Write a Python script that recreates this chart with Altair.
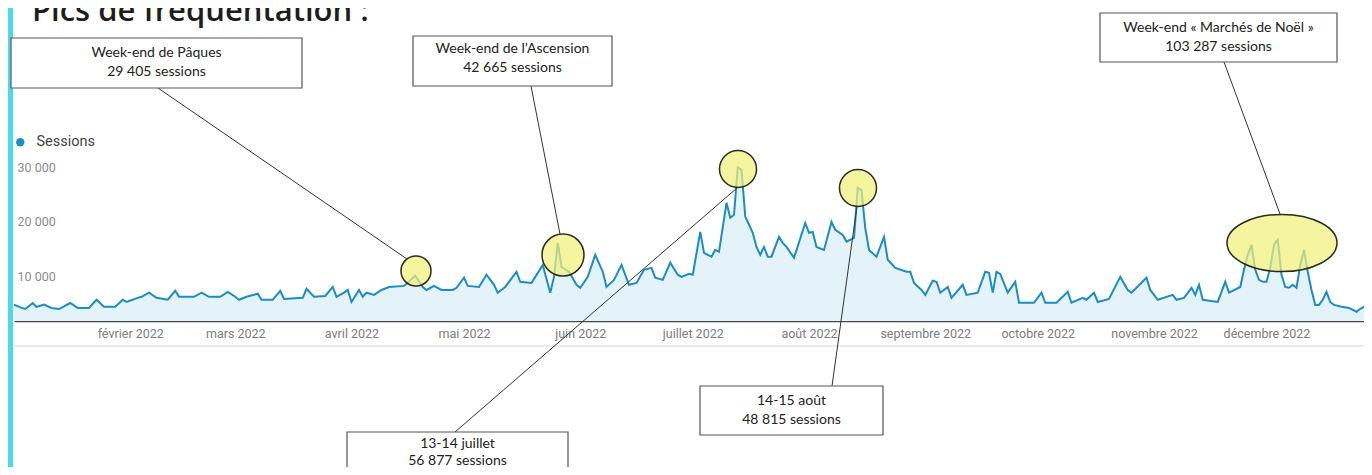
import altair as alt
import pandas as pd

# ---------------- data ----------------
# day index since 1 Jan 2022, daily sessions
days = [0, 2, 3, 5, 6, 8, 10, 12, 15, 17, 20, 22, 24, 27, 29, 30, 33, 34, 36, 38,
        41, 43, 44, 48, 50, 52, 55, 57, 59, 60, 62, 65, 66, 69, 71, 72, 77, 78, 80, 83,
        85, 86, 88, 89, 90, 92, 93, 94, 96, 98, 100, 104, 105, 106, 107, 109, 110, 112, 114, 117,
        118, 120, 121, 124, 126, 128, 129, 131, 134, 135, 138, 141, 143, 144, 145, 146, 147, 148, 150, 151,
        153, 155, 157, 158, 160, 162, 164, 166, 168, 170, 171, 173, 175, 177, 178, 180, 181, 183, 184, 186,
        187, 188, 190, 191, 192, 193, 194, 195, 197, 198, 199, 200, 201, 202, 204, 205, 206, 208, 211, 212,
        213, 214, 216, 218, 219, 221, 222, 224, 225, 226, 227, 228, 230, 232, 233, 235, 238, 239, 240, 242,
        243, 245, 246, 247, 249, 250, 253, 254, 257, 259, 260, 261, 262, 263, 265, 267, 268, 272, 274, 275,
        278, 281, 282, 285, 286, 288, 289, 292, 295, 297, 298, 302, 303, 305, 309, 310, 312, 314, 315, 316,
        317, 321, 323, 324, 327, 328, 329, 330, 331, 332, 333, 334, 335, 336, 337, 338, 339, 340, 341, 342,
        343, 344, 345, 346, 347, 348, 349, 350, 351, 352, 354, 356, 358, 359, 360, 362, 364]
sessions = [4800, 4200, 4000, 5100, 4400, 4800, 4200, 4000, 5100, 4200, 4200, 5700, 4400, 4400, 5700, 5300, 6050, 6250, 7000, 6050,
            5700, 7350, 6250, 6250, 7000, 6250, 6250, 7150, 6250, 5700, 6250, 6800, 5700, 5700, 7350, 5850, 6050, 7700, 6250, 6400,
            8050, 6250, 7000, 7500, 5300, 7500, 6250, 7000, 6600, 7500, 8050, 8250, 8800, 9500, 10100, 8050, 7500, 8250, 7500, 7500,
            7900, 9750, 8250, 8050, 10300, 8450, 7000, 8050, 10850, 9000, 8800, 12100, 7000, 9900, 16150, 11750, 11300, 10850, 8450, 7900,
            9900, 13950, 10850, 8050, 9350, 12100, 8450, 8800, 11200, 11550, 9750, 9350, 12500, 10300, 9900, 10450, 10300, 18150, 14300, 13600,
            14850, 14500, 23500, 20750, 21300, 30000, 29600, 21000, 18000, 15400, 13950, 15400, 13600, 13600, 17250, 16150, 15400, 13400, 19800, 18000,
            18150, 15400, 14850, 20000, 18550, 17600, 16350, 17050, 26250, 25850, 18900, 14850, 13600, 17250, 13050, 11550, 10850, 10850, 8800, 7500,
            6600, 9200, 9000, 7000, 8050, 6050, 8450, 6600, 7000, 10850, 10650, 7000, 10850, 10450, 7000, 9000, 5150, 5150, 7000, 5150,
            5150, 7150, 5150, 6050, 5700, 7000, 5300, 5850, 9900, 7500, 7000, 9750, 7500, 5700, 6600, 5700, 6050, 7900, 6600, 8450,
            5700, 5300, 9000, 7000, 8050, 11200, 13950, 15800, 11200, 9350, 9000, 9000, 11550, 15800, 16700, 10300, 8050, 7900, 8450, 7900,
            12100, 14850, 10850, 7500, 4750, 4750, 5700, 7150, 5300, 4750, 4400, 4200, 3500, 4050, 4400, 4400, 4300]

series_name = "Sessions"
month_starts = [31, 59, 90, 120, 151, 181, 212, 243, 273, 304, 334]
month_labels = ["février 2022", "mars 2022", "avril 2022", "mai 2022", "juin 2022", "juillet 2022",
                "août 2022", "septembre 2022", "octobre 2022", "novembre 2022", "décembre 2022"]
y_ticks = [10000, 20000, 30000]
title_text = "Pics de fréquentation :"
annotation_texts = [
    ["Week-end de Pâques", "29 405 sessions"],
    ["Week-end de l\u2019Ascension", "42 665 sessions"],
    ["13-14 juillet", "56 877 sessions"],
    ["14-15 août", "48 815 sessions"],
    ["Week-end « Marchés de Noël »", "103 287 sessions"],
]

# ---------------- layout (page pixels) ----------------
PLOT_X0, PLOT_Y0 = 14, 150
W, H = 1350, 171


def px(x):
    return x - PLOT_X0


def py(y):
    return y - PLOT_Y0


# box: x1, x2, y1, y2, first-line offset, line height
boxes = [(11, 302, 38, 88, 8, 18.5), (413, 612, 36, 86, 6, 19), (347, 568, 432, 490, 5, 16.5),
         (700, 883, 386, 435, 8, 18.5), (1100, 1337, 13, 62, 8, 18.5)]
connectors = [((158, 88), (407, 259)), ((531, 86), (560, 234)), ((455, 432), (737, 188)),
              ((832, 386), (857, 206)), ((1224, 62), (1280, 214))]
highlights = [(416, 271, 30, "circle"), (563, 255, 42, "circle"), (738, 169, 37, "circle"),
              (858, 188, 37, "circle"), (1282, 243, 110, "M-1,0 A1,0.52 0 1,1 1,0 A1,0.52 0 1,1 -1,0 Z")]

LINE_COLOR = "#1b8cc6"

df = pd.DataFrame({"day": days, "sessions": sessions, "serie": series_name})
dummy = pd.DataFrame({"k": [0]})

label_expr = "[" + ",".join("'" + m + "'" for m in month_labels) + "][indexof([" + \
    ",".join(str(v) for v in month_starts) + "], datum.value)]"

x_enc = alt.X("day:Q", scale=alt.Scale(domain=[0, 360], nice=False, zero=False),
              axis=alt.Axis(values=month_starts, labelExpr=label_expr, title=None, grid=False,
                            ticks=False, domainColor="#4a4a4a", domainWidth=1.5,
                            labelColor="#7c7c7c", labelFont="Roboto", labelFontSize=12.5,
                            labelPadding=12, labelBaseline="middle", labelFlush=False,
                            labelOverlap=False))
y_enc = alt.Y("sessions:Q", scale=alt.Scale(domain=[1800, 33200], nice=False, zero=False),
              axis=alt.Axis(values=y_ticks, labelExpr="replace(format(datum.value, ','), ',', ' ')",
                            title=None, grid=False, ticks=False, tickSize=0, domain=False,
                            labelAlign="left", labelPadding=-3, labelBaseline="middle",
                            labelColor="#8c8c8c", labelFont="Roboto", labelFontSize=12.5))

base = alt.Chart(df)
area = base.mark_area(color="#e4f2fa", clip=True).encode(x=x_enc, y=y_enc)
line = base.mark_line(strokeWidth=2, clip=True).encode(
    x=x_enc, y=y_enc,
    color=alt.Color("serie:N", scale=alt.Scale(range=[LINE_COLOR]),
                    legend=alt.Legend(orient="none", legendX=-1, legendY=-15, title=None,
                                      symbolType="circle", symbolSize=70,
                                      symbolFillColor=LINE_COLOR, symbolStrokeColor=LINE_COLOR,
                                      symbolStrokeWidth=0, labelFont="Roboto", labelFontSize=14.5,
                                      labelColor="#444444", labelOffset=9, padding=0)))

layers = []
# decorative cyan border and title
layers.append(alt.Chart(dummy).mark_rect(color="#48dce6").encode(
    x=alt.value(px(8)), x2=alt.value(px(13)), y=alt.value(py(8)), y2=alt.value(py(480))))
layers.append(alt.Chart(dummy).mark_text(text=title_text, align="left", baseline="alphabetic",
                                         font="Open Sans", fontSize=31, fontWeight=600,
                                         color="#1d1d1d").encode(
    x=alt.value(px(32)), y=alt.value(py(21))))
# faint line under the month labels
layers.append(alt.Chart(dummy).mark_rule(color="#e4e4e4", strokeWidth=1.5).encode(
    x=alt.value(px(14)), x2=alt.value(px(1364)), y=alt.value(py(346))))
layers += [area, line]

for cx, cy, d, shape in highlights:
    layers.append(alt.Chart(dummy).mark_point(shape=shape, filled=True, fill="#f1f07a", fillOpacity=0.72,
                                              opacity=1, stroke="#2a2a20", strokeWidth=1.5,
                                              size=d * d).encode(
        x=alt.value(px(cx)), y=alt.value(py(cy))))

for (x1, y1), (x2, y2) in connectors:
    layers.append(alt.Chart(dummy).mark_rule(color="#333333", strokeWidth=1).encode(
        x=alt.value(px(x1)), y=alt.value(py(y1)), x2=alt.value(px(x2)), y2=alt.value(py(y2))))

for (x1, x2, y1, y2, off, lh), lines in zip(boxes, annotation_texts):
    layers.append(alt.Chart(dummy).mark_rect(fill="white", stroke="#555555", strokeWidth=1.2).encode(
        x=alt.value(px(x1)), x2=alt.value(px(x2)), y=alt.value(py(y1)), y2=alt.value(py(y2))))
    layers.append(alt.Chart(dummy).mark_text(text=lines, align="center", baseline="top", font="Lato",
                                             fontSize=14, lineHeight=lh, color="#222222").encode(
        x=alt.value(px((x1 + x2) / 2)), y=alt.value(py(y1) + off)))

chart = alt.layer(*layers).properties(
    width=W, height=H,
    padding={"left": 6, "top": 142, "right": 0, "bottom": 146},
    autosize=alt.AutoSizeParams(type="none"),
).configure_view(stroke=None)

chart.save("out.html", embed_options={"renderer": "svg", "actions": False})
